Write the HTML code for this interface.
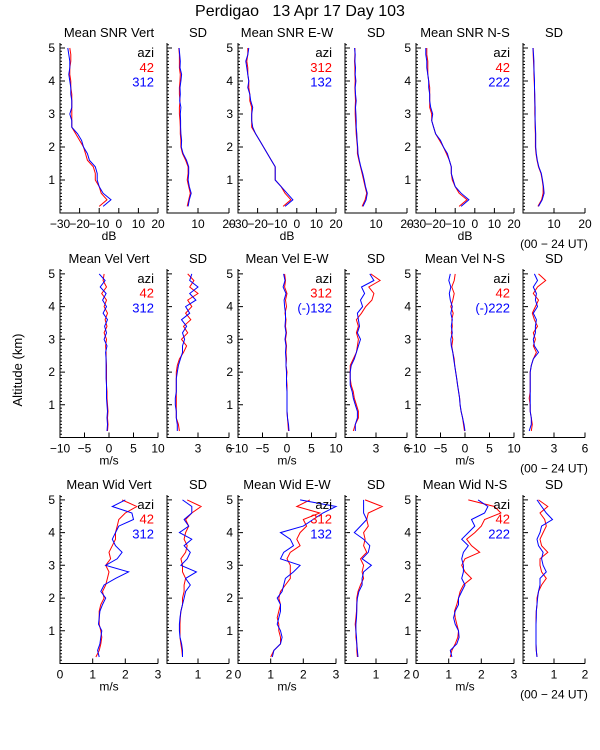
<!DOCTYPE html>
<html><head><meta charset="utf-8"><style>
html,body{margin:0;padding:0;background:#fff;}
svg{display:block;font-family:"Liberation Sans",sans-serif;}
</style></head><body>
<svg id="chart" width="600" height="750" viewBox="0 0 600 750" xmlns="http://www.w3.org/2000/svg">
<text x="300" y="16" font-size="16" text-anchor="middle" style="white-space:pre" xml:space="preserve">Perdigao   13 Apr 17 Day 103</text>
<text x="0" y="0" font-size="13" text-anchor="middle" transform="translate(22,370) rotate(-90)">Altitude (km)</text>
</svg>
<script>
const altitudes=[0.2,0.4,0.6,0.8,1.0,1.2,1.4,1.6,1.8,2.0,2.2,2.4,2.6,2.8,3.0,3.2,3.4,3.6,3.8,4.0,4.2,4.4,4.6,4.8,5.0];
const snrVertRed=[-10,-6,-9,-10,-12,-12,-13,-16,-17,-18,-20,-22,-24,-24,-24,-24,-24,-24,-24.5,-24.5,-25,-25,-24.5,-24.5,-25];
const snrVertBlue=[-8,-4,-8,-10,-11,-11,-12,-15,-16,-18,-19,-21,-24,-24,-25,-24,-24,-24.5,-24.5,-25,-25.5,-25,-25,-25.5,-26];
const sdSnrVertRed=[6.5,7,7.5,7,6.5,6.8,6.8,6,5,4.5,4.5,4.3,4.3,4.2,4.0,4.0,4.2,4.0,4.0,4.2,4.3,4.0,4.0,4.0,3.8];
const sdSnrVertBlue=[6.8,7.2,7.8,7.2,6.8,7,7,6.3,5.2,4.6,4.7,4.5,4.4,4.4,4.3,4.5,4.1,4.3,4.2,4.5,4.7,4.2,4.3,4.1,3.9];
const snrEWRed=[-7,-3,-6,-8,-11,-11,-11,-13,-15,-17,-19,-21,-23,-23,-23,-23,-24,-24,-24.5,-24.5,-25,-25,-25.5,-25,-25];
const snrEWBlue=[-6,-2,-5,-8,-11,-11,-11,-13,-15,-17,-19,-21,-22.5,-23,-23,-22.5,-23.5,-24,-25,-24.5,-25,-25.5,-26,-25,-24.5];
const sdSnrEWRed=[5.5,6.5,7,6.5,6,5.5,5,4.5,4,4,3.8,3.6,3.5,3.4,3.3,3.3,3.4,3.3,3.2,3.3,3.2,3.2,3.1,3.2,3.2];
const sdSnrEWBlue=[5.8,6.8,7.2,6.6,6.2,5.7,5.1,4.6,4.2,4.1,3.9,3.8,3.6,3.6,3.5,3.4,3.6,3.4,3.3,3.5,3.3,3.4,3.2,3.3,3.1];
const snrNSRed=[-8,-4,-8,-10,-11.5,-12,-12,-13,-14.5,-16,-18,-20,-21,-22,-22,-23,-23,-23,-23,-23.5,-24,-24,-24,-24.5,-24.5];
const snrNSBlue=[-7,-3,-7,-10,-11,-12,-12,-13,-14,-16,-17.5,-20,-21,-22,-21.5,-22.5,-23,-23,-23.5,-23.5,-24,-24.5,-24.5,-25,-25];
const sdSnrNSRed=[4.8,6,6.5,6.5,6.2,5.8,5,4.5,4.2,4,4,4,3.9,3.9,3.8,3.8,3.8,3.7,3.7,3.6,3.5,3.5,3.4,3.3,3.3];
const sdSnrNSBlue=[5,6.2,6.8,6.6,6.3,5.9,5.1,4.6,4.3,4.1,4.1,4.1,4,3.9,3.9,3.9,3.8,3.8,3.7,3.7,3.6,3.5,3.5,3.4,3.2];
const velVertRed=[-0.3,-0.2,-0.3,-0.2,-0.3,-0.4,-0.4,-0.5,-0.5,-0.5,-0.5,-0.6,-0.6,-0.7,-0.5,-1,-0.4,-0.8,-0.3,-1,-0.5,-1.5,-0.5,-1.2,-1];
const velVertBlue=[-0.4,-0.3,-0.4,-0.3,-0.4,-0.5,-0.5,-0.5,-0.6,-0.6,-0.6,-0.6,-0.7,-0.4,-1,-0.5,-0.9,-0.3,-1.2,-0.5,-1.3,-0.6,-1.8,-0.8,-2];
const sdVelVertRed=[1.2,1.1,0.9,0.9,0.9,0.9,0.9,0.9,0.9,0.9,1.0,1.2,1.6,1.9,1.4,2.0,1.6,2.3,1.8,2.4,2.0,3.0,2.2,2.6,2.0];
const sdVelVertBlue=[1.0,1.0,0.9,0.9,0.8,0.8,0.9,0.9,0.9,1.0,1.1,1.3,1.5,1.5,1.7,1.5,1.9,1.4,2.2,1.8,2.8,2.2,3.0,2.2,2.4];
const velEWRed=[0.3,0.2,0.1,0,0,0,0,0,-0.1,0,-0.2,-0.1,-0.2,-0.1,-0.3,-0.1,-0.3,-0.2,-0.4,-0.1,-0.3,0,-0.5,-0.3,-0.5];
const velEWBlue=[0.4,0.3,0.1,0,0,0,0,-0.1,-0.1,-0.1,-0.2,-0.2,-0.3,-0.2,-0.4,-0.2,-0.4,-0.3,-0.3,-0.5,-0.6,-0.2,-0.8,-0.4,-0.7];
const sdVelEWRed=[0.8,1.0,1.3,1.3,1.1,0.9,0.8,0.6,0.5,0.5,0.5,0.8,1.1,1.2,1.3,1.1,1.3,1.1,1.6,2.0,2.6,2.8,2.3,3.4,2.5];
const sdVelEWBlue=[1.0,1.0,1.2,1.2,1.0,0.8,0.7,0.5,0.5,0.5,0.6,0.9,1.1,1.3,1.5,1.2,1.4,1.3,1.2,1.7,1.5,1.9,1.6,2.8,2.4];
const velNSRed=[-0.1,-0.3,-0.5,-0.8,-1,-1.1,-1.3,-1.5,-1.7,-1.9,-2.1,-2.2,-2.5,-2.7,-2.5,-2.8,-2.6,-2.7,-2.4,-2.9,-2.5,-2.2,-2.7,-2.2,-2.0];
const velNSBlue=[0,-0.2,-0.5,-0.8,-1,-1.1,-1.3,-1.5,-1.7,-1.9,-2.1,-2.3,-2.5,-2.8,-2.9,-2.6,-2.8,-2.6,-2.9,-2.6,-3.0,-3.2,-2.9,-3.3,-3.0];
const sdVelNSRed=[0.8,0.9,0.8,0.7,0.7,0.6,0.7,0.7,0.7,0.7,0.8,1.0,1.3,1.0,1.2,1.0,1.4,1.1,0.9,1.2,1.5,1.0,1.4,2.2,1.5];
const sdVelNSBlue=[0.6,0.8,0.8,0.7,0.7,0.7,0.7,0.7,0.7,0.7,0.8,1.0,1.5,1.1,1.0,1.2,1.2,1.3,1.0,1.4,1.2,1.3,1.0,1.4,1.1];
const widVertRed=[1.1,1.2,1.25,1.28,1.25,1.2,1.2,1.2,1.25,1.35,1.3,1.4,1.45,1.5,1.4,1.55,1.5,1.6,1.7,1.7,1.75,1.8,2.0,2.35,1.9];
const widVertBlue=[1.2,1.15,1.22,1.25,1.28,1.18,1.2,1.22,1.3,1.4,1.25,1.35,1.7,2.1,1.4,1.75,1.9,1.7,1.6,1.7,1.8,2.25,2.2,1.6,2.0];
const sdWidVertRed=[0.5,0.48,0.45,0.42,0.42,0.42,0.43,0.45,0.5,0.5,0.55,0.55,0.6,0.5,0.5,0.45,0.6,0.65,0.55,0.6,0.7,0.6,0.8,1.1,0.65];
const sdWidVertBlue=[0.5,0.5,0.47,0.42,0.4,0.4,0.42,0.45,0.5,0.55,0.6,0.75,0.6,0.95,0.45,0.65,0.75,0.55,0.8,0.4,0.7,0.55,0.8,0.8,0.5];
const widEWRed=[1.0,1.1,1.3,1.3,1.25,1.25,1.2,1.25,1.3,1.25,1.3,1.45,1.6,1.6,1.6,1.5,1.6,1.9,1.8,1.9,2.1,2.0,2.5,1.8,2.2];
const widEWBlue=[1.05,1.1,1.3,1.35,1.3,1.2,1.25,1.3,1.3,1.2,1.35,1.4,1.45,1.7,1.9,1.3,1.4,1.7,1.6,1.3,2.0,2.3,2.6,3.0,1.9];
const sdWidEWRed=[0.4,0.38,0.38,0.35,0.35,0.33,0.35,0.37,0.38,0.38,0.42,0.5,0.6,0.55,0.6,0.5,0.7,0.6,0.65,0.6,0.75,0.7,0.75,1.2,0.65];
const sdWidEWBlue=[0.42,0.4,0.38,0.37,0.35,0.35,0.37,0.38,0.38,0.4,0.45,0.55,0.55,0.6,0.85,0.55,0.75,0.8,0.6,0.3,0.5,0.7,0.6,0.6,0.6];
const widNSRed=[1.05,1.1,1.2,1.28,1.3,1.25,1.2,1.18,1.25,1.3,1.35,1.45,1.7,1.5,1.4,1.5,1.95,1.7,1.55,1.8,2.0,2.1,2.6,2.4,1.6];
const widNSBlue=[1.1,1.05,1.25,1.32,1.3,1.2,1.15,1.2,1.3,1.3,1.4,1.5,1.4,1.45,1.45,1.4,1.45,1.6,1.4,1.6,1.8,1.7,2.1,2.2,1.9];
const sdWidNSRed=[0.45,0.43,0.42,0.42,0.42,0.42,0.42,0.43,0.45,0.45,0.5,0.6,0.75,0.6,0.55,0.55,0.8,0.6,0.55,0.65,0.75,0.7,0.55,0.8,0.5];
const sdWidNSBlue=[0.45,0.43,0.42,0.42,0.42,0.42,0.43,0.43,0.45,0.47,0.5,0.55,0.55,0.75,0.65,0.6,0.65,0.5,0.45,0.55,0.6,0.95,0.75,0.6,0.45];
const snrTicks=[-30,-20,-10,0,10,20];
const sdSnrTicks=[10,20];
const velTicks=[-10,-5,0,5,10];
const sdVelTicks=[3,6];
const widTicks=[0,1,2,3];
const sdWidTicks=[1,2];
const yTicks=[1,2,3,4,5];
const rowTitles=[["Mean SNR Vert","SD","Mean SNR E-W","SD","Mean SNR N-S","SD"],["Mean Vel Vert","SD","Mean Vel E-W","SD","Mean Vel N-S","SD"],["Mean Wid Vert","SD","Mean Wid E-W","SD","Mean Wid N-S","SD"]];
const legendRed=[["42","312","42"],["42","312","42"],["42","312","42"]];
const legendBlue=[["312","132","222"],["312","(-)132","(-)222"],["312","132","222"]];

const svg=document.getElementById('chart');
const NS='http://www.w3.org/2000/svg';
const colX=[[60,158],[167,229],[238,336],[345,407],[416,514],[523,585]];
const rowY=[[43,213],[269,437.5],[495,663.5]];
const YMAX=5.15;
function el(tag,attrs,parent){const e=document.createElementNS(NS,tag);for(const k in attrs)e.setAttribute(k,attrs[k]);(parent||svg).appendChild(e);return e;}
function txt(s,x,y,size,anchor,fill,name){const t=el('text',{x:x,y:y,'font-size':size,'text-anchor':anchor,fill:fill});t.textContent=s;


return t;}

const rows=[
 {dom:[[-30,20],[0,20]],ticks:[snrTicks,sdSnrTicks],unit:'dB',series:[[snrVertRed,snrVertBlue],[sdSnrVertRed,sdSnrVertBlue],[snrEWRed,snrEWBlue],[sdSnrEWRed,sdSnrEWBlue],[snrNSRed,snrNSBlue],[sdSnrNSRed,sdSnrNSBlue]]},
 {dom:[[-10,10],[0,6]],ticks:[velTicks,sdVelTicks],unit:'m/s',series:[[velVertRed,velVertBlue],[sdVelVertRed,sdVelVertBlue],[velEWRed,velEWBlue],[sdVelEWRed,sdVelEWBlue],[velNSRed,velNSBlue],[sdVelNSRed,sdVelNSBlue]]},
 {dom:[[0,3],[0,2]],ticks:[widTicks,sdWidTicks],unit:'m/s',series:[[widVertRed,widVertBlue],[sdWidVertRed,sdWidVertBlue],[widEWRed,widEWBlue],[sdWidEWRed,sdWidEWBlue],[widNSRed,widNSBlue],[sdWidNSRed,sdWidNSBlue]]}
];

rows.forEach((row,r)=>{
 const [top,bot]=rowY[r];
 const yS=v=>bot-(v/YMAX)*(bot-top);
 for(let c=0;c<6;c++){
  const isSD=c%2===1;
  const [x0,x1]=colX[c];
  const dom=row.dom[isSD?1:0];
  const xS=v=>x0+(v-dom[0])/(dom[1]-dom[0])*(x1-x0);
  const g=el('g',{});
  
  
  txt(rowTitles[r][c],(x0+x1)/2,top-6,13,'middle','#000','panel-title');
  const ax=el('path',{d:`M${x0},${top}V${bot}H${x1}`,stroke:'#000','stroke-width':1,fill:'none'},g);
  
  
  let d='';
  for(let v=0.1;v<YMAX;v+=0.1){const y=yS(v);const major=Math.abs(v-Math.round(v))<0.01;d+=`M${x0},${y.toFixed(1)}h${major?5:2}`;}
  row.ticks[isSD?1:0].forEach(t=>{d+=`M${xS(t).toFixed(1)},${bot}v-5`;});
  const tk=el('path',{d:d,stroke:'#000','stroke-width':1,fill:'none'},g);
  
  
  if(!isSD){yTicks.forEach(t=>{txt(String(t),x0-5,yS(t)+4,12,'end','#000','y-tick-label');});}
  row.ticks[isSD?1:0].forEach(t=>{txt(String(t).replace('-','\u2212'),xS(t),bot+15,12,'middle','#000','x-tick-label');});
  if(!isSD) txt(row.unit,(x0+x1)/2,bot+27,12,'middle','#000','x-axis-unit');
  if(c===5) txt('(00 \u2212 24 UT)',(x0+x1)/2,bot+35,12,'middle','#000','time-range-label');
  const pair=row.series[c];
  [['#ff0000',pair[0]],['#0000ff',pair[1]]].forEach(([col,vals],i)=>{
   const pts=vals.map((v,k)=>xS(v).toFixed(1)+','+yS(altitudes[k]).toFixed(1)).join(' ');
   const pl=el('polyline',{points:pts,fill:'none',stroke:col,'stroke-width':1},g);
   
   
  });
  if(!isSD){
   const m=c/2;
   txt('azi',x1-4,yS(4.85)+4,13,'end','#000','legend-title');
   txt(legendRed[r][m],x1-4,yS(4.4)+4,13,'end','#ff0000','legend-entry-red');
   txt(legendBlue[r][m],x1-4,yS(3.95)+4,13,'end','#0000ff','legend-entry-blue');
  }
 }
});
</script>
</body></html>
